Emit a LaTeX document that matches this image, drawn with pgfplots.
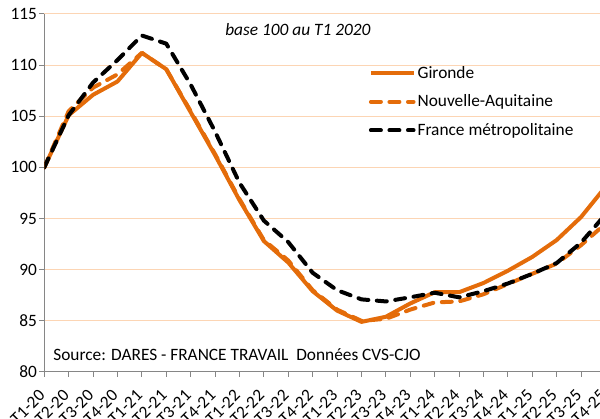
\documentclass[border=0pt]{standalone}
\usepackage{fontspec}
\setmainfont{Carlito}
\usepackage{pgfplots}
\pgfplotsset{compat=1.18}
\definecolor{org}{HTML}{E46C0A}
\definecolor{gridc}{HTML}{FCD5B4}
\definecolor{axg}{HTML}{868686}
\begin{document}
\begin{tikzpicture}
\useasboundingbox (0,0) rectangle (450pt,313.5pt);
\clip (0,0) rectangle (450pt,313.5pt);
\begin{axis}[
  at={(33.2pt,34.5pt)}, anchor=south west,
  scale only axis, width=420.9pt, height=268.5pt,
  xmin=0, xmax=23, ymin=80, ymax=115,
  ytick={80,85,...,115},
  xtick={0,...,23},
  xticklabels={T1-20,T2-20,T3-20,T4-20,T1-21,T2-21,T3-21,T4-21,T1-22,T2-22,T3-22,T4-22,T1-23,T2-23,T3-23,T4-23,T1-24,T2-24,T3-24,T4-24,T1-25,T2-25,T3-25,T4-25},
  x tick label style={xshift=-1pt, yshift=-11pt, rotate=45, anchor=east, inner sep=1pt},
  y tick label style={inner sep=1.5pt},
  tick label style={font=\fontsize{13}{15}\selectfont},
  /pgf/number format/assume math mode=true,
  axis x line*=bottom, axis y line*=left,
  axis line style={axg, line width=0.75pt},
  tick style={axg, line width=0.75pt},
  tick align=outside, major tick length=3.75pt,
  ymajorgrids, grid style={gridc, line width=0.75pt},
  legend cell align=left,
  legend image code/.code={\draw[#1] (0pt,0pt) -- (32pt,0pt);},
  legend style={draw=none, fill=none, at={(0.578,0.86)}, anchor=north west,
    inner sep=0pt, row sep=7.8pt, font=\fontsize{13}{15}\selectfont,
    nodes={inner sep=1.5pt}},
]
\addplot[org, line width=3pt, line join=round] coordinates {
(0,100) (1,105.1) (2,107.1) (3,108.4) (4,111.2) (5,109.6) (6,105.4) (7,101.2)
(8,96.8) (9,92.8) (10,90.7) (11,87.9) (12,86.0) (13,84.9) (14,85.4) (15,86.7)
(16,87.8) (17,87.8) (18,88.7) (19,89.9) (20,91.25) (21,92.9) (22,95.15) (23,98.1)};
\addlegendentry{Gironde}
\addplot[org, line width=3pt, line cap=round, line join=round, dash pattern=on 7.5pt off 6.4pt] coordinates {
(0,100) (1,105.5) (2,107.8) (3,109.1) (4,111.2) (5,109.6) (6,105.5) (7,101.3)
(8,96.9) (9,92.9) (10,90.9) (11,88.0) (12,86.1) (13,85.0) (14,85.2) (15,86.1)
(16,86.8) (17,86.9) (18,87.6) (19,88.6) (20,89.6) (21,90.6) (22,92.4) (23,94.5)};
\addlegendentry{Nouvelle-Aquitaine}
\addplot[black, line width=3pt, line cap=round, line join=round, dash pattern=on 7.5pt off 6.4pt] coordinates {
(0,100) (1,105.1) (2,108.3) (3,110.5) (4,112.9) (5,112.1) (6,108.1) (7,103.5)
(8,98.5) (9,94.8) (10,92.7) (11,89.7) (12,88.0) (13,87.1) (14,86.9) (15,87.3)
(16,87.75) (17,87.3) (18,87.9) (19,88.65) (20,89.6) (21,90.65) (22,92.65) (23,95.4)};
\addlegendentry{France métropolitaine}
\node[anchor=base west, font=\itshape\fontsize{13}{15}\selectfont, inner sep=0pt] at (axis cs:7.41,112.94) {base 100 au T1 2020};
\node[anchor=base west, font=\fontsize{13}{15}\selectfont, inner sep=0pt] at (axis cs:0.36,81.17) {Source: DARES - FRANCE TRAVAIL\ \ Données CVS-CJO};
\end{axis}
\end{tikzpicture}
\end{document}
